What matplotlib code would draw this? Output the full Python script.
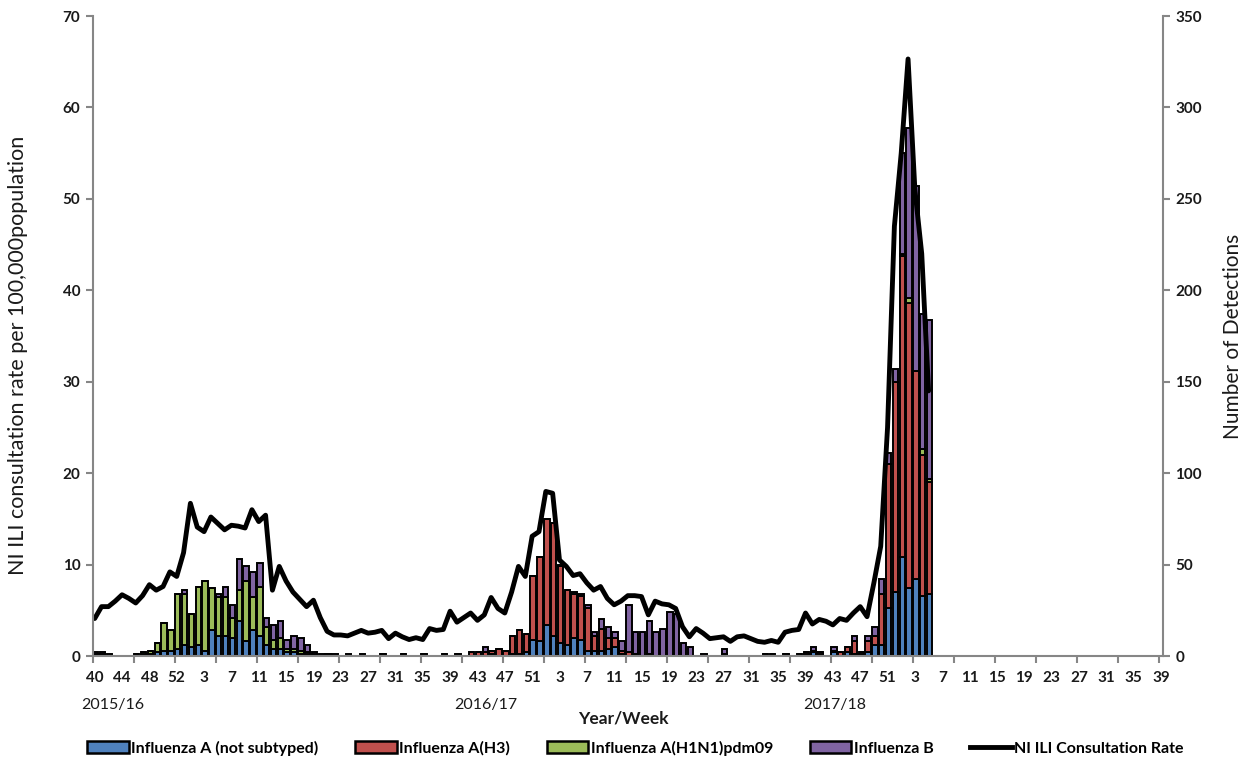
import numpy as np
import matplotlib.pyplot as plt
from matplotlib.patches import Patch
from matplotlib.lines import Line2D

plt.rcParams['font.family'] = ['Lato', 'DejaVu Sans']

# ---------------------------------------------------------------------------
# Week axis: 2015/16 (53 weeks), 2016/17 and 2017/18 (52 weeks each)
# ---------------------------------------------------------------------------
week_numbers = (list(range(40, 54)) + list(range(1, 40))
                + list(range(40, 53)) + list(range(1, 40))
                + list(range(40, 53)) + list(range(1, 40)))
season_labels = ["2015/16", "2016/17", "2017/18"]

# NI ILI consultation rate per 100,000 (2015 wk40 .. 2018 wk5)
ili_rate = [
    # 2015/16
    4.1, 5.4, 5.4, 6.0, 6.7, 6.3, 5.8, 6.6, 7.8, 7.2,
    7.6, 9.2, 8.7, 11.3, 16.7, 14.1, 13.6, 15.2, 14.5, 13.8,
    14.3, 14.2, 14.0, 16.0, 14.7, 15.4, 7.2, 9.8, 8.2, 7.0,
    6.2, 5.4, 6.1, 4.2, 2.7, 2.3, 2.3, 2.2, 2.5, 2.8,
    2.5, 2.6, 2.8, 1.9, 2.5, 2.1, 1.8, 2.0, 1.8, 3.0,
    2.8, 2.9, 4.9,
    # 2016/17
    3.7, 4.2, 4.7, 3.9, 4.5, 6.4, 5.2, 4.7, 7.0, 9.8,
    8.7, 13.1, 13.6, 18.0, 17.8, 10.5, 9.8, 8.8, 9.0, 8.0,
    7.2, 7.6, 6.3, 5.6, 6.0, 6.6, 6.6, 6.5, 4.5, 6.0,
    5.7, 5.6, 5.2, 3.2, 2.1, 3.0, 2.5, 1.9, 2.0, 2.1,
    1.6, 2.1, 2.2, 1.9, 1.6, 1.5, 1.7, 1.5, 2.6, 2.8,
    2.9, 4.7,
    # 2017/18
    3.5, 4.0, 3.8, 3.4, 4.1, 3.9, 4.7, 5.4, 4.3, 8.0,
    12.0, 25.0, 47.0, 55.0, 65.3, 51.0, 44.0, 29.0,
]

# Number of detections per week
flu_a_unsubtyped = [
    0, 0, 0, 0, 0, 0, 0, 1, 1, 2, 3, 3, 4, 6, 5, 6, 3, 14, 11, 11,
    10, 19, 8, 14, 11, 6, 4, 4, 2, 2, 1, 1, 0, 0, 0, 0, 0, 0, 0, 0,
    0, 0, 0, 0, 0, 0, 0, 0, 0, 0, 0, 0, 0,
    0, 0, 0, 0, 0, 1, 0, 0, 1, 1, 2, 9, 8, 17, 11, 7, 6, 10, 9, 3,
    3, 3, 4, 5, 1, 0, 0, 0, 0, 0, 0, 0, 0, 0, 0, 0, 0, 0, 0, 0,
    0, 0, 0, 0, 0, 0, 1, 0, 0, 0, 0, 1,
    2, 1, 0, 2, 0, 2, 1, 1, 2, 6, 6, 26, 35, 54, 37, 42, 33, 34,
]
flu_a_h3 = [
    1, 1, 0, 0, 0, 0, 0, 0, 0, 0, 0, 0, 0, 0, 0, 0, 0, 0, 0, 0,
    0, 0, 0, 0, 0, 0, 0, 0, 0, 0, 0, 0, 1, 0, 1, 0, 0, 0, 0, 0,
    0, 0, 1, 0, 0, 1, 0, 0, 1, 0, 0, 1, 0,
    1, 0, 2, 2, 2, 2, 4, 3, 10, 13, 10, 35, 46, 58, 62, 42, 30, 24, 24, 23,
    8, 12, 6, 5, 2, 2, 1, 0, 1, 0, 0, 0, 0, 0, 0, 0, 0, 0, 0, 1,
    0, 0, 0, 0, 0, 1, 0, 0, 1, 0, 1, 1,
    1, 1, 0, 1, 2, 3, 7, 1, 6, 5, 28, 79, 115, 165, 156, 114, 77, 61,
]
flu_a_h1n1 = [
    0, 0, 0, 0, 0, 0, 1, 1, 2, 5, 15, 11, 30, 28, 18, 32, 38, 23, 21, 21,
    11, 17, 33, 18, 27, 10, 5, 6, 2, 2, 2, 1, 0, 0, 0, 0, 0, 0, 0, 0,
    0, 0, 0, 0, 0, 0, 0, 0, 0, 0, 0, 0, 0,
    0, 0, 0, 0, 0, 0, 0, 0, 0, 0, 0, 0, 0, 0, 0, 0, 0, 0, 0, 0,
    0, 0, 0, 0, 0, 0, 0, 0, 0, 0, 0, 0, 0, 0, 0, 0, 0, 0, 0, 0,
    0, 0, 0, 0, 0, 0, 0, 0, 0, 0, 0, 0,
    0, 0, 0, 0, 0, 0, 0, 0, 0, 0, 0, 0, 0, 1, 3, 0, 3, 2,
]
flu_b = [
    1, 1, 1, 0, 0, 0, 0, 0, 0, 0, 0, 0, 0, 2, 0, 0, 0, 0, 2, 6,
    7, 17, 8, 14, 13, 5, 8, 9, 5, 7, 7, 4, 1, 1, 0, 1, 0, 1, 0, 1,
    0, 0, 0, 0, 0, 0, 0, 0, 0, 0, 0, 0, 0,
    0, 0, 0, 0, 3, 0, 0, 0, 0, 0, 0, 0, 0, 0, 0, 1, 0, 1, 1, 2,
    2, 5, 6, 3, 5, 26, 12, 13, 18, 13, 15, 24, 23, 7, 5, 0, 1, 0, 0, 3,
    0, 0, 0, 0, 0, 0, 0, 0, 0, 0, 0, 0,
    2, 0, 0, 2, 0, 0, 3, 0, 3, 5, 8, 6, 7, 55, 93, 101, 74, 87,
]

series = [
    ("Influenza A (not subtyped)", flu_a_unsubtyped, "#4F81BD"),
    ("Influenza A(H3)", flu_a_h3, "#C0504D"),
    ("Influenza A(H1N1)pdm09", flu_a_h1n1, "#9BBB59"),
    ("Influenza B", flu_b, "#8064A2"),
]

GREY = "#868686"
TEXT = "#1a1a1a"

n_weeks = len(week_numbers)
x_all = np.arange(n_weeks)
x_data = np.arange(len(ili_rate))

fig = plt.figure(figsize=(12.41, 7.58), dpi=100)
ax = fig.add_axes([93 / 1241, 1 - 656 / 758, 1070 / 1241, 640 / 758])
ax2 = ax.twinx()

# stacked detections on the secondary axis
bottom = np.zeros(len(x_data))
for name, vals, col in series:
    vals = np.array(vals, dtype=float)
    ax2.bar(x_data + 0.15, vals, width=0.8, bottom=bottom, color=col,
            edgecolor="black", linewidth=1.4)
    bottom += vals

# ILI rate line drawn above the bars
ax.set_zorder(ax2.get_zorder() + 1)
ax.patch.set_visible(False)
ax.plot(x_data, ili_rate, color="black", linewidth=3.5,
        solid_joinstyle="round", solid_capstyle="round")

ax.set_xlim(-0.25, 156.3)
ax.set_ylim(0, 70)
ax2.set_ylim(0, 350)
ax.set_yticks(np.arange(0, 71, 10))
ax2.set_yticks(np.arange(0, 351, 50))

# tick marks every 6 weeks, labels every 4 weeks
ax.set_xticks(np.arange(0, 157, 6) - 0.25)
ax.set_xticklabels([])
label_pos = x_all[::4]
ax.set_xticks(label_pos, minor=True)
ax.set_xticklabels([str(week_numbers[i]) for i in label_pos], minor=True)

ax.tick_params(axis="x", which="major", length=5, width=1.5, color=GREY)
ax.tick_params(axis="x", which="minor", length=0, pad=11, labelsize=11,
               labelcolor=TEXT)
ax.tick_params(axis="y", length=5, width=1.5, color=GREY, labelsize=11,
               labelcolor=TEXT, pad=4)
ax2.tick_params(axis="y", length=5, width=1.5, color=GREY, labelsize=11,
                labelcolor=TEXT, pad=4)
for lab in ax.get_xticklabels(minor=True) + ax.get_yticklabels() + ax2.get_yticklabels():
    lab.set_fontweight("bold")

for a in (ax, ax2):
    a.spines["top"].set_visible(False)
ax.spines["right"].set_visible(False)
ax2.spines["left"].set_visible(False)
ax2.spines["bottom"].set_visible(False)
for sp in (ax.spines["left"], ax.spines["bottom"], ax2.spines["right"]):
    sp.set_color(GREY)
    sp.set_linewidth(1.5)

# axis titles and season labels
fig.text(18 / 1241, 1 - 355 / 758,
         "NI ILI consultation rate per 100,000population",
         rotation=90, ha="center", va="center", fontsize=15.5, color=TEXT)
fig.text(1233 / 1241, 1 - 336 / 758, "Number of Detections",
         rotation=90, ha="center", va="center", fontsize=15, color=TEXT)
fig.text(623 / 1241, 1 - 718 / 758, "Year/Week", ha="center", va="center",
         fontsize=12.5, fontweight="bold", color=TEXT)
for xpix, lab in zip([113, 486, 835], season_labels):
    fig.text(xpix / 1241, 1 - 705 / 758, lab, ha="center", va="center",
             fontsize=11.5, color=TEXT)

handles = [Patch(facecolor=col, edgecolor="black", linewidth=1.8)
           for _, _, col in series]
handles.append(Line2D([0], [0], color="black", linewidth=3.5))
labels = [name for name, _, _ in series] + ["NI ILI Consultation Rate"]
fig.legend(handles, labels, loc="center", bbox_to_anchor=(0.512, 1 - 748 / 758),
           ncol=5, frameon=False, handlelength=2.6, handleheight=0.75,
           handletextpad=0.15, columnspacing=2.3,
           prop={"weight": "bold", "size": 11.5})

fig.savefig("out.png", dpi=100)
